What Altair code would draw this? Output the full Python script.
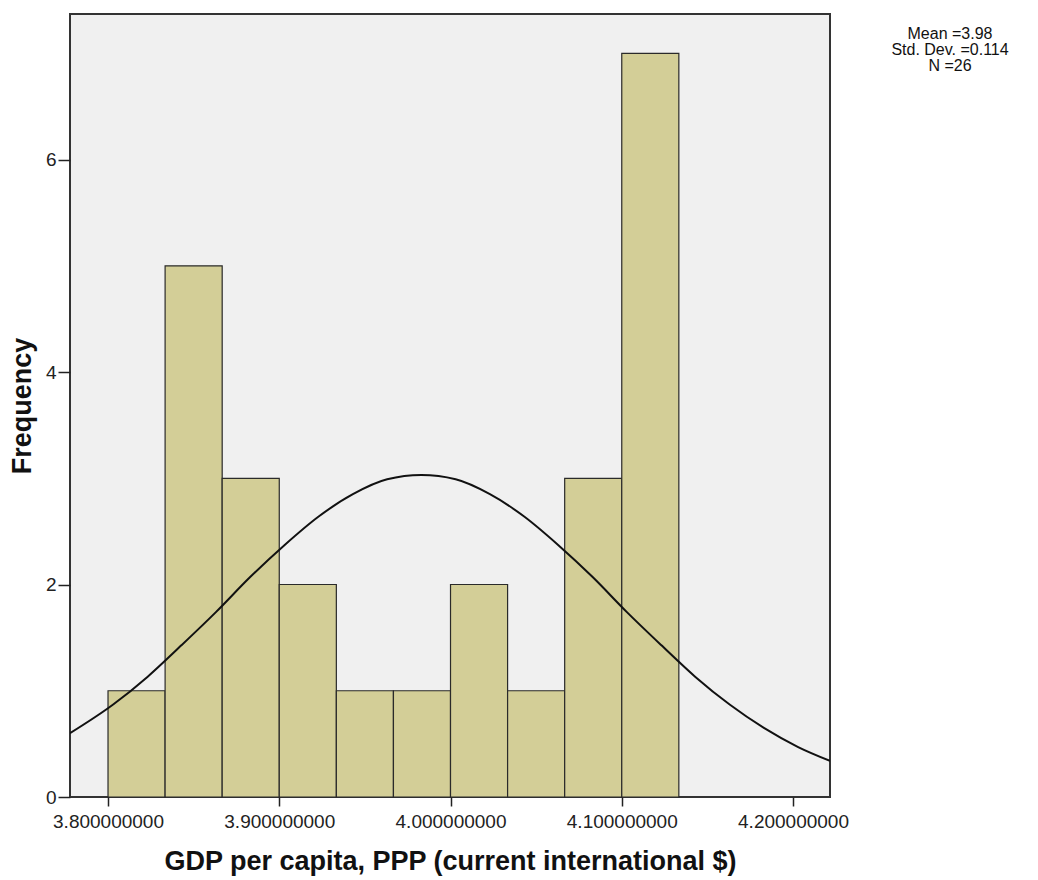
import altair as alt
import pandas as pd

# Histogram bins (lower/upper edges) and counts
bin_start = [3.8, 3.833333, 3.866667, 3.9, 3.933333, 3.966667, 4.0, 4.033333, 4.066667, 4.1]
bin_end = [3.833333, 3.866667, 3.9, 3.933333, 3.966667, 4.0, 4.033333, 4.066667, 4.1, 4.133333]
counts = [1, 5, 3, 2, 1, 1, 2, 1, 3, 7]

# Normal curve points
curve_x = [3.7778, 3.803, 3.823, 3.843, 3.863, 3.883, 3.903, 3.923, 3.943, 3.963, 3.983,
           4.003, 4.023, 4.043, 4.063, 4.083, 4.103, 4.123, 4.143, 4.163, 4.183, 4.203, 4.2216]
curve_y = [0.60, 0.87, 1.13, 1.43, 1.74, 2.07, 2.37, 2.64, 2.85, 2.99, 3.03,
           2.99, 2.85, 2.64, 2.37, 2.07, 1.74, 1.43, 1.13, 0.87, 0.65, 0.47, 0.34]

x_ticks = [3.8, 3.9, 4.0, 4.1, 4.2]
y_ticks = [0, 2, 4, 6]
stats_lines = ["Mean =3.98", "Std. Dev. =0.114", "N =26"]

bars_df = pd.DataFrame({"start": bin_start, "end": bin_end, "count": counts})
curve_df = pd.DataFrame({"x": curve_x, "y": curve_y})
stats_df = pd.DataFrame({"label": ["\n".join(stats_lines)]})

xscale = alt.Scale(domain=[3.7778, 4.2216], nice=False, zero=False)
yscale = alt.Scale(domain=[0, 7.37], nice=False)

xaxis = alt.Axis(values=x_ticks, format=".9f", grid=False, domain=False,
                 tickColor="#222222", tickSize=9, tickWidth=1.5,
                 labelFont="Liberation Sans", labelFontSize=19, labelColor="#222222",
                 labelPadding=6,
                 title="GDP per capita, PPP (current international $)",
                 titleFont="Liberation Sans", titleFontSize=27, titleFontWeight="bold",
                 titleColor="#111111", titlePadding=17)
yaxis = alt.Axis(values=y_ticks, format="d", grid=False, domain=False,
                 tickColor="#222222", tickSize=12, tickWidth=1.5,
                 labelFont="Liberation Sans", labelFontSize=19, labelColor="#222222",
                 labelPadding=2,
                 title="Frequency",
                 titleFont="Liberation Sans", titleFontSize=27, titleFontWeight="bold",
                 titleColor="#111111", titlePadding=9)

bars = alt.Chart(bars_df).mark_rect(
    fill="#D3CE97", stroke="#2a2a2a", strokeWidth=1.2
).encode(
    x=alt.X("start:Q", scale=xscale, axis=xaxis),
    x2="end:Q",
    y=alt.Y("count:Q", scale=yscale, axis=yaxis),
    y2=alt.datum(0),
)

line = alt.Chart(curve_df).mark_line(
    color="#111111", strokeWidth=2, interpolate="monotone", clip=True
).encode(
    x=alt.X("x:Q", scale=xscale),
    y=alt.Y("y:Q", scale=yscale),
)

stats = alt.Chart(stats_df).mark_text(
    font="Liberation Sans", fontSize=16, lineHeight=16, color="#111111",
    align="center", baseline="top", lineBreak="\n"
).encode(
    x=alt.value(880),
    y=alt.value(12),
    text="label:N",
)

chart = alt.layer(bars, line, stats).properties(
    width=760, height=783,
    autosize=alt.AutoSizeParams(type="none"),
    padding={"left": 62, "top": 6, "right": 200, "bottom": 80},
    background="white",
).configure_view(
    fill="#F0F0F0", stroke="#333333", strokeWidth=2
)

chart.save("out.html", embed_options={"renderer": "svg", "actions": False})
